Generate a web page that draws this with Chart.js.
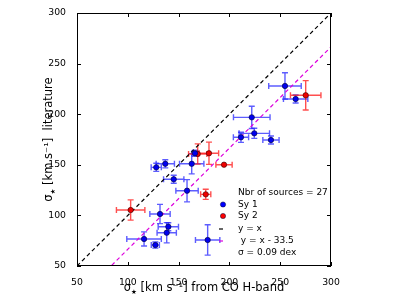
<!DOCTYPE html>
<html>
<head>
<meta charset="utf-8">
<script src="https://cdn.jsdelivr.net/npm/chart.js@4.4.1/dist/chart.umd.min.js"></script>
<style>
  html, body { margin: 0; padding: 0; background: #fff; }
  #wrap { width: 407px; height: 305px; }
</style>
</head>
<body>
<div id="wrap"><canvas id="myChart" width="407" height="305"></canvas></div>
<script>
// Sy 1 sources
var sy1X    = [254.7, 265.2, 222.0, 211.4, 224.5, 240.9, 128.0, 136.9, 162.9, 166.1, 145.2, 158.3, 131.7, 139.9, 138.3, 116.0, 127.1, 178.6];
var sy1Y    = [227.9, 215.0, 196.9, 177.2, 181.1, 174.5, 147.5, 151.0, 151.0, 161.4, 135.7, 124.4, 101.4,  88.8,  82.9,  76.7,  70.7,  75.7];
var sy1XErr = [16, 12, 18, 7.5, 15, 8, 5, 9, 12, 3, 10, 11, 10, 10, 9.5, 17, 4, 12];
var sy1YErr = [13, 4, 11, 5, 5, 4, 4, 4, 10, 3, 4, 11, 9.5, 4, 10, 7, 3, 15];

// Sy 2 sources
var sy2X    = [275.1, 168.8, 179.9, 194.7, 176.7, 102.8];
var sy2Y    = [218.7, 160.7, 161.4, 150.1, 120.8, 105.3];
var sy2XErr = [15, 9, 9.5, 8, 5, 14];
var sy2YErr = [14.5, 10, 11, 0, 5, 10];

// reference lines y = x + offset
var lineX = [50, 300];
var lineOffsets = [0, -33.5];

var axisTicks = [50, 100, 150, 200, 250, 300];
var legendLines = ['Nbr of sources = 27', 'Sy 1', 'Sy 2', 'y = x', ' y = x - 33.5', '\u03c3 = 0.09 dex'];

var FONT = '"DejaVu Sans", sans-serif';

function toPoints(xs, ys, xe, ye) {
    return xs.map((x, i) => ({ x: x, y: ys[i], xerr: xe[i], yerr: ye[i] }));
}

// error bars drawn through the chart scales
const errorBars = {
    id: 'errorBars',
    beforeDatasetsDraw(chart) {
        const ctx = chart.ctx;
        const xs = chart.scales.x, ys = chart.scales.y;
        chart.data.datasets.forEach(ds => {
            if (!ds.errColor) return;
            ctx.save();
            ctx.strokeStyle = ds.errColor;
            ctx.lineWidth = 1.4;
            ds.data.forEach(p => {
                const px = xs.getPixelForValue(p.x), py = ys.getPixelForValue(p.y);
                const cap = 3;
                if (p.xerr > 0) {
                    const x0 = xs.getPixelForValue(p.x - p.xerr), x1 = xs.getPixelForValue(p.x + p.xerr);
                    ctx.beginPath();
                    ctx.moveTo(x0, py); ctx.lineTo(x1, py);
                    ctx.moveTo(x0, py - cap); ctx.lineTo(x0, py + cap);
                    ctx.moveTo(x1, py - cap); ctx.lineTo(x1, py + cap);
                    ctx.stroke();
                }
                if (p.yerr > 0) {
                    const y0 = ys.getPixelForValue(p.y - p.yerr), y1 = ys.getPixelForValue(p.y + p.yerr);
                    ctx.beginPath();
                    ctx.moveTo(px, y0); ctx.lineTo(px, y1);
                    ctx.moveTo(px - cap, y0); ctx.lineTo(px + cap, y0);
                    ctx.moveTo(px - cap, y1); ctx.lineTo(px + cap, y1);
                    ctx.stroke();
                }
            });
            ctx.restore();
        });
    }
};

// frame, inward ticks, axis titles, legend
const decorations = {
    id: 'decorations',
    afterDraw(chart) {
        const ctx = chart.ctx;
        const a = chart.chartArea;
        const xs = chart.scales.x, ys = chart.scales.y;
        ctx.save();
        ctx.strokeStyle = '#000';
        ctx.lineWidth = 1;
        ctx.strokeRect(a.left + 0.5, a.top + 0.5, a.right - a.left - 1, a.bottom - a.top - 1);
        const tl = 4;
        ctx.beginPath();
        axisTicks.forEach(v => {
            const px = Math.round(xs.getPixelForValue(v)) + 0.5;
            ctx.moveTo(px, a.bottom); ctx.lineTo(px, a.bottom - tl);
            ctx.moveTo(px, a.top); ctx.lineTo(px, a.top + tl);
            const py = Math.round(ys.getPixelForValue(v)) + 0.5;
            ctx.moveTo(a.left, py); ctx.lineTo(a.left + tl, py);
            ctx.moveTo(a.right, py); ctx.lineTo(a.right - tl, py);
        });
        ctx.stroke();

        // axis titles with subscript star
        function drawLabel(x, y, rest) {
            ctx.font = '11.5px ' + FONT;
            const w1 = ctx.measureText('\u03c3').width;
            ctx.font = '6.5px ' + FONT;
            const w2 = ctx.measureText('\u2605').width;
            ctx.font = '11.5px ' + FONT;
            const w3 = ctx.measureText(rest).width;
            let sx = x - (w1 + w2 + w3) / 2;
            ctx.fillStyle = '#000';
            ctx.textBaseline = 'alphabetic';
            ctx.textAlign = 'left';
            ctx.fillText('\u03c3', sx, y);
            ctx.font = '6.5px ' + FONT;
            ctx.fillText('\u2605', sx + w1, y + 2.5);
            ctx.font = '11.5px ' + FONT;
            ctx.fillText(rest, sx + w1 + w2, y);
        }
        drawLabel((a.left + a.right) / 2, 291, ' [km s\u207b\u00b9] from CO H-band');
        ctx.save();
        ctx.translate(52, (a.top + a.bottom) / 2);
        ctx.rotate(-Math.PI / 2);
        drawLabel(0, 0, ' [km s\u207b\u00b9]  literature');
        ctx.restore();

        // legend
        ctx.font = '9px ' + FONT;
        ctx.textBaseline = 'middle';
        ctx.textAlign = 'left';
        const lx = 238, ly = [193, 204.5, 216, 229, 241, 253];
        legendLines.forEach((t, i) => {
            ctx.fillStyle = '#000';
            ctx.fillText(t, lx, ly[i]);
        });
        [['#0000ff', ly[1]], ['#ff0000', ly[2]]].forEach(m => {
            ctx.beginPath();
            ctx.arc(223, m[1], 2.6, 0, Math.PI * 2);
            ctx.fillStyle = m[0];
            ctx.fill();
            ctx.strokeStyle = '#000033';
            ctx.lineWidth = 0.5;
            ctx.stroke();
        });
        [['#000', ly[3]], ['#dd00dd', ly[4]]].forEach(m => {
            ctx.beginPath();
            ctx.strokeStyle = m[0];
            ctx.lineWidth = 1.2;
            ctx.setLineDash([4, 3]);
            ctx.moveTo(219, m[1]); ctx.lineTo(226, m[1]);
            ctx.stroke();
            ctx.setLineDash([]);
        });
        ctx.restore();
    }
};

const ctx = document.getElementById('myChart');
new Chart(ctx, {
    type: 'scatter',
    data: {
        datasets: [{
            label: 'y = x',
            type: 'line',
            data: lineX.map(x => ({ x: x, y: x + lineOffsets[0] })),
            borderColor: '#000',
            borderWidth: 1.2,
            borderDash: [4, 3],
            pointRadius: 0,
            fill: false,
            order: 3,
        }, {
            label: 'y = x - 33.5',
            type: 'line',
            data: lineX.map(x => ({ x: x, y: x + lineOffsets[1] })),
            borderColor: '#dd00dd',
            borderWidth: 1.2,
            borderDash: [4, 3],
            pointRadius: 0,
            fill: false,
            order: 3,
        }, {
            label: 'Sy 1',
            data: toPoints(sy1X, sy1Y, sy1XErr, sy1YErr),
            backgroundColor: '#0000ee',
            borderColor: '#000033',
            borderWidth: 0.6,
            pointRadius: 2.7,
            errColor: 'rgba(30, 30, 255, 0.72)',
            order: 1,
        }, {
            label: 'Sy 2',
            data: toPoints(sy2X, sy2Y, sy2XErr, sy2YErr),
            backgroundColor: '#ee0000',
            borderColor: '#330000',
            borderWidth: 0.6,
            pointRadius: 2.7,
            errColor: 'rgba(255, 20, 20, 0.75)',
            order: 2,
        }]
    },
    options: {
        responsive: false,
        animation: false,
        layout: { padding: { top: 13, right: 76, left: 0, bottom: 0 } },
        plugins: {
            legend: { display: false },
            tooltip: { enabled: false },
        },
        scales: {
            x: {
                type: 'linear',
                min: 50, max: 300,
                afterFit: function (scale) { scale.height = 39; },
                afterBuildTicks: function (scale) { scale.ticks = axisTicks.map(v => ({ value: v })); },
                grid: { display: false },
                border: { display: false },
                ticks: { color: '#000', padding: 3, font: { family: FONT, size: 9.3 }, maxRotation: 0 },
            },
            y: {
                type: 'linear',
                min: 50, max: 300,
                afterFit: function (scale) { scale.width = 77; },
                afterBuildTicks: function (scale) { scale.ticks = axisTicks.map(v => ({ value: v })); },
                grid: { display: false },
                border: { display: false },
                ticks: { color: '#000', padding: 3, font: { family: FONT, size: 9.3 } },
            }
        }
    },
    plugins: [errorBars, decorations]
});
</script>
</body>
</html>
